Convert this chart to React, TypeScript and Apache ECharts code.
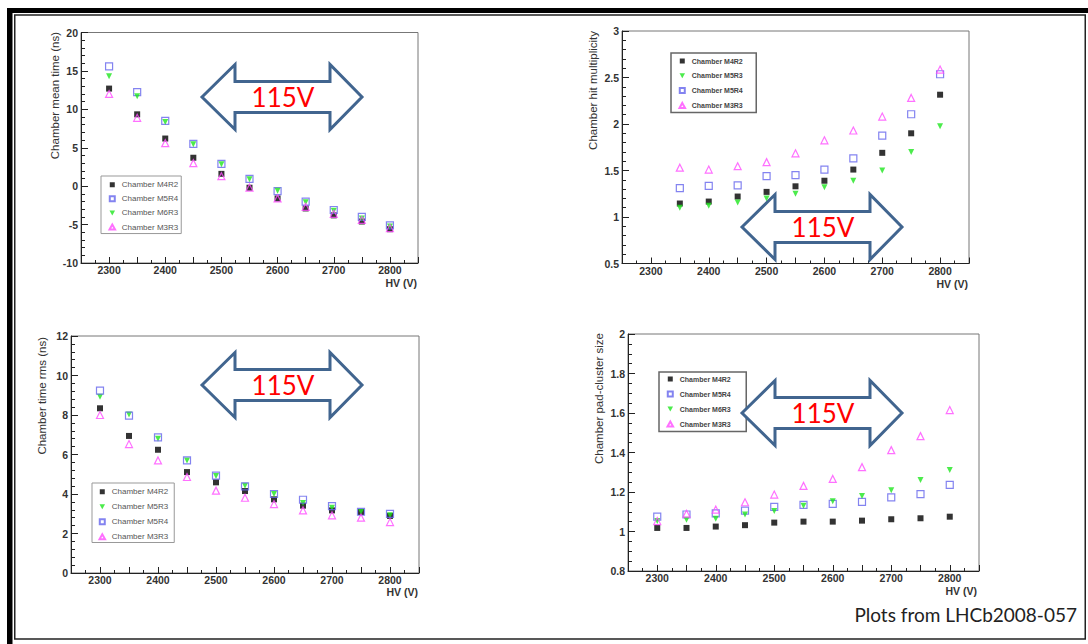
import React, { useEffect, useRef } from "react";
import * as echarts from "echarts";

// ---------- DATA ----------
const HV = [2300, 2350, 2400, 2450, 2500, 2550, 2600, 2650, 2700, 2750, 2800];
const HV_MULT = [2350, 2400, 2450, 2500, 2550, 2600, 2650, 2700, 2750, 2800];

const X_LABELS = [2300, 2400, 2500, 2600, 2700, 2800];

// Panel 1: chamber mean time (ns)
const meanTimeM4R2 = [12.7, 9.35, 6.2, 3.7, 1.6, -0.2, -1.6, -2.9, -3.8, -4.6, -5.6];
const meanTimeM5R4 = [15.6, 12.25, 8.5, 5.5, 2.9, 0.95, -0.65, -2.0, -3.1, -4.0, -5.1];
const meanTimeM6R3 = [14.3, 11.7, 8.35, 5.45, 2.86, 0.9, -0.6, -2.1, -3.2, -4.2, -5.25];
const meanTimeM3R3 = [12.0, 8.9, 5.6, 3.0, 1.3, -0.2, -1.6, -2.7, -3.6, -4.4, -5.45];

// Panel 2: chamber hit multiplicity
const multM4R2 = [1.145, 1.166, 1.22, 1.27, 1.33, 1.39, 1.51, 1.69, 1.9, 2.315];
const multM5R3 = [1.1, 1.12, 1.155, 1.2, 1.25, 1.32, 1.39, 1.5, 1.7, 1.975];
const multM5R4 = [1.31, 1.335, 1.34, 1.44, 1.45, 1.51, 1.63, 1.875, 2.105, 2.535];
const multM3R3 = [1.53, 1.51, 1.546, 1.59, 1.685, 1.825, 1.93, 2.08, 2.28, 2.585];

// Panel 3: chamber time rms (ns)
const rmsM4R2 = [8.34, 6.94, 6.24, 5.11, 4.59, 4.15, 3.73, 3.41, 3.17, 3.09, 2.89];
const rmsM5R3 = [8.93, 8.03, 6.8, 5.7, 4.91, 4.42, 4.0, 3.54, 3.31, 3.1, 2.92];
const rmsM5R4 = [9.23, 7.97, 6.87, 5.7, 4.93, 4.39, 4.0, 3.71, 3.39, 3.1, 2.99];
const rmsM3R3 = [8.0, 6.53, 5.7, 4.86, 4.17, 3.81, 3.49, 3.17, 2.92, 2.8, 2.58];

// Panel 4: chamber pad-cluster size
const clusterM4R2 = [1.018, 1.018, 1.025, 1.032, 1.045, 1.05, 1.05, 1.055, 1.062, 1.067, 1.075];
const clusterM5R4 = [1.075, 1.086, 1.092, 1.106, 1.125, 1.135, 1.14, 1.15, 1.173, 1.189, 1.236];
const clusterM6R3 = [1.053, 1.059, 1.065, 1.086, 1.104, 1.13, 1.153, 1.18, 1.209, 1.261, 1.312];
const clusterM3R3 = [1.053, 1.09, 1.111, 1.148, 1.187, 1.231, 1.266, 1.326, 1.412, 1.483, 1.615];

const Y_TITLES = [
  "Chamber mean time (ns)",
  "Chamber hit multiplicity",
  "Chamber time rms (ns)",
  "Chamber pad-cluster size",
];
const ARROW_LABEL = "115V";
const SOURCE_NOTE = "Plots from LHCb2008-057";

// ---------- STYLES ----------
const FONT = "'Liberation Sans', Arial, sans-serif";
const STYLE: Record<string, any> = {
  blackSq: {
    symbol: "rect",
    icon: "path://M0,0H10V10H0Z",
    symbolSize: 6,
    itemStyle: { color: "#000" },
  },
  blueSq: {
    symbol: "rect",
    icon: "path://M0,0H10V10H0Z",
    symbolSize: 7,
    itemStyle: { color: "rgba(255,255,255,0)", borderColor: "#6464ec", borderWidth: 1.2 },
  },
  greenTri: {
    symbol: "path://M0,0L10,0L5,9Z",
    icon: "path://M0,0L10,0L5,9Z",
    symbolSize: [6, 6],
    itemStyle: { color: "#1fe61f" },
  },
  magTri: {
    symbol: "triangle",
    icon: "path://M5,0L10,9L0,9Z",
    symbolSize: 7,
    itemStyle: { color: "rgba(255,255,255,0)", borderColor: "#ff4cff", borderWidth: 1.2 },
  },
};

const GRIDS = [
  { left: 81, top: 32.5, width: 337, height: 230.5 },
  { left: 622, top: 31, width: 347, height: 232.5 },
  { left: 71, top: 336, width: 348, height: 237 },
  { left: 628, top: 334, width: 351, height: 237 },
];

const Y_AXES = [
  { min: -10, max: 20, interval: 5, minorSplit: 5 },
  { min: 0.5, max: 3, interval: 0.5, minorSplit: 5 },
  { min: 0, max: 12, interval: 2, minorSplit: 5 },
  { min: 0.8, max: 2, interval: 0.2, minorSplit: 4 },
];

const pair = (xs: number[], ys: number[]) => xs.map((x, i) => [x, ys[i]]);

export default function App() {
  const ref = useRef<HTMLDivElement>(null);

  useEffect(() => {
    const chart = echarts.init(ref.current!, null, { renderer: "svg" });

    const panels = [
      {
        series: [
          ["Chamber M4R2", pair(HV, meanTimeM4R2), "blackSq"],
          ["Chamber M5R4", pair(HV, meanTimeM5R4), "blueSq"],
          ["Chamber M6R3", pair(HV, meanTimeM6R3), "greenTri"],
          ["Chamber M3R3", pair(HV, meanTimeM3R3), "magTri"],
        ],
        legend: { left: 101, top: 176, gap: 6.1, padding: [4.75, 3, 2.5, 7.5], fontSize: 8, bold: false },
      },
      {
        series: [
          ["Chamber M4R2", pair(HV_MULT, multM4R2), "blackSq"],
          ["Chamber M5R3", pair(HV_MULT, multM5R3), "greenTri"],
          ["Chamber M5R4", pair(HV_MULT, multM5R4), "blueSq"],
          ["Chamber M3R3", pair(HV_MULT, multM3R3), "magTri"],
        ],
        legend: { left: 671, top: 53, gap: 7.8, padding: [4.5, 13.5, 3.5, 7.5], fontSize: 7, bold: true },
      },
      {
        series: [
          ["Chamber M4R2", pair(HV, rmsM4R2), "blackSq"],
          ["Chamber M5R3", pair(HV, rmsM5R3), "greenTri"],
          ["Chamber M5R4", pair(HV, rmsM5R4), "blueSq"],
          ["Chamber M3R3", pair(HV, rmsM3R3), "magTri"],
        ],
        legend: { left: 92, top: 483, gap: 7, padding: [4.75, 6, 1.75, 6.5], fontSize: 8, bold: false },
      },
      {
        series: [
          ["Chamber M4R2", pair(HV, clusterM4R2), "blackSq"],
          ["Chamber M5R4", pair(HV, clusterM5R4), "blueSq"],
          ["Chamber M6R3", pair(HV, clusterM6R3), "greenTri"],
          ["Chamber M3R3", pair(HV, clusterM3R3), "magTri"],
        ],
        legend: { left: 659, top: 372, gap: 8, padding: [3.5, 15.5, 4, 7.5], fontSize: 7, bold: true },
      },
    ];

    const xAxis = GRIDS.map((_, i) => ({
      type: "value",
      gridIndex: i,
      min: 2250,
      max: 2850,
      interval: 50,
      axisLine: { show: true, onZero: false, lineStyle: { color: "#222", width: 1 } },
      axisTick: { show: true, inside: true, length: 6, lineStyle: { color: "#222" } },
      minorTick: { show: true, splitNumber: 2, length: 3, lineStyle: { color: "#222" } },
      splitLine: { show: false },
      axisLabel: {
        margin: 1.5,
        color: "#333",
        fontSize: 10.5,
        fontWeight: "bold",
        fontFamily: FONT,
        formatter: (v: number) => (X_LABELS.indexOf(v) >= 0 ? String(v) : ""),
      },
    }));

    const yAxis = Y_AXES.map((a, i) => ({
      type: "value",
      gridIndex: i,
      min: a.min,
      max: a.max,
      interval: a.interval,
      axisLine: { show: true, onZero: false, lineStyle: { color: "#222", width: 1 } },
      axisTick: { show: true, inside: true, length: 7, lineStyle: { color: "#222" } },
      minorTick: { show: true, splitNumber: a.minorSplit, length: 4, lineStyle: { color: "#222" } },
      splitLine: { show: false },
      axisLabel: {
        margin: 3,
        color: "#333",
        fontSize: 10.5,
        fontWeight: "bold",
        fontFamily: FONT,
      },
    }));

    const series: any[] = [];
    panels.forEach((p, gi) => {
      p.series.forEach(([name, data, styleKey]: any) => {
        const st = STYLE[styleKey];
        series.push({
          type: "scatter",
          name,
          xAxisIndex: gi,
          yAxisIndex: gi,
          data,
          symbol: st.symbol,
          symbolSize: st.symbolSize,
          itemStyle: st.itemStyle,
          z: 3,
        });
      });
    });

    const legend = panels.map((p) => ({
      orient: "vertical",
      left: p.legend.left,
      top: p.legend.top,
      padding: p.legend.padding,
      itemGap: p.legend.gap,
      itemWidth: 9,
      itemHeight: 5,
      symbolKeepAspect: true,
      selectedMode: false,
      backgroundColor: "#fff",
      borderColor: p.legend.bold ? "#666" : "#999",
      borderWidth: p.legend.bold ? 1.5 : 1,
      data: p.series.map((s: any) => ({ name: s[0], icon: STYLE[s[2]].icon })),
      textStyle: {
        fontSize: p.legend.fontSize,
        fontWeight: p.legend.bold ? "bold" : "normal",
        color: p.legend.bold ? "#444" : "#555",
        fontFamily: FONT,
        lineHeight: 7,
      },
    }));

    // decorative elements
    const arrow = (left: number, cy: number) => ({
      type: "polygon",
      z: 100,
      shape: {
        points: [
          [left, cy],
          [left + 33, cy - 32.5],
          [left + 33, cy - 15.5],
          [left + 128, cy - 15.5],
          [left + 128, cy - 32.5],
          [left + 160, cy],
          [left + 128, cy + 32.5],
          [left + 128, cy + 15.5],
          [left + 33, cy + 15.5],
          [left + 33, cy + 32.5],
        ],
      },
      style: { fill: "#fff", stroke: "#41658f", lineWidth: 3, lineJoin: "miter" },
    });
    const arrowText = (cx: number, cy: number) => ({
      type: "text",
      z: 101,
      x: cx,
      y: cy,
      style: {
        text: ARROW_LABEL,
        fill: "#ff0000",
        font: "26px Lato, 'Open Sans', sans-serif",
        align: "center",
        verticalAlign: "middle",
      },
    });
    const yTitle = (x: number, top: number, text: string) => ({
      type: "text",
      z: 50,
      x,
      y: top,
      rotation: Math.PI / 2,
      style: {
        text,
        fill: "#333",
        font: `11.5px ${FONT}`,
        align: "right",
        verticalAlign: "middle",
      },
    });
    const xTitle = (right: number, cy: number) => ({
      type: "text",
      z: 50,
      x: right,
      y: cy,
      style: {
        text: "HV (V)",
        fill: "#333",
        font: `bold 10.5px ${FONT}`,
        align: "right",
        verticalAlign: "middle",
      },
    });

    const graphic: any[] = [
      { type: "rect", z: 200, shape: { x: 7, y: 8, width: 1081, height: 5 }, style: { fill: "#000" } },
      { type: "rect", z: 200, shape: { x: 7, y: 8, width: 5.5, height: 636 }, style: { fill: "#000" } },
      {
        type: "rect",
        z: 200,
        shape: { x: 14.75, y: 15, width: 1070.5, height: 624 },
        style: { fill: "none", stroke: "#222", lineWidth: 1.5 },
      },
      yTitle(55, 32, Y_TITLES[0]),
      yTitle(593, 31, Y_TITLES[1]),
      yTitle(42, 337, Y_TITLES[2]),
      yTitle(599, 333, Y_TITLES[3]),
      xTitle(417, 283),
      xTitle(968, 284),
      xTitle(418, 592),
      xTitle(977, 590.5),
      arrow(202, 97),
      arrowText(283, 97),
      arrow(742, 227),
      arrowText(823, 227),
      arrow(202, 385),
      arrowText(283, 385),
      arrow(742, 413),
      arrowText(823, 413),
      {
        type: "text",
        z: 50,
        x: 1077,
        y: 614,
        style: {
          text: SOURCE_NOTE,
          fill: "#222",
          font: "19px Lato, 'Open Sans', sans-serif",
          align: "right",
          verticalAlign: "middle",
        },
      },
    ];

    chart.setOption({
      animation: false,
      backgroundColor: "#fff",
      grid: GRIDS.map((g) => ({ ...g, show: true, borderColor: "#777", borderWidth: 1, backgroundColor: "transparent" })),
      xAxis,
      yAxis,
      legend,
      series,
      graphic,
    });

    return () => chart.dispose();
  }, []);

  return (
    <div
      ref={ref}
      style={{ position: "fixed", left: 0, top: 0, width: 1088, height: 644, background: "#fff" }}
    />
  );
}
